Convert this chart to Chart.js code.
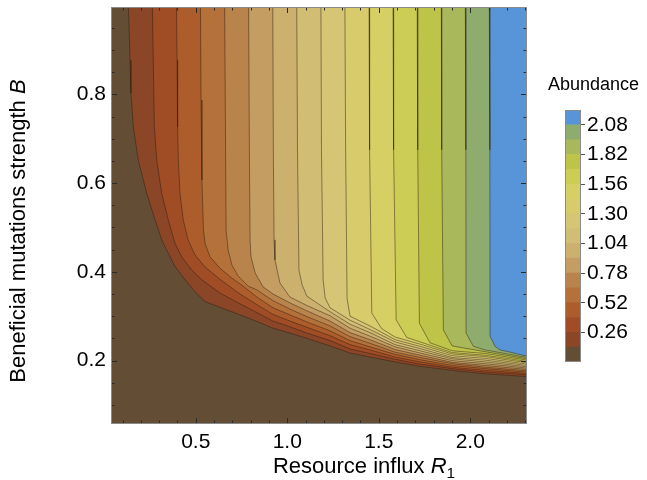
<!DOCTYPE html>
<html>
<head>
<meta charset="utf-8">
<script src="https://cdn.jsdelivr.net/npm/chart.js"></script>
<style>
  html, body { margin: 0; padding: 0; background: #ffffff; }
  #wrap { position: relative; width: 647px; height: 480px; overflow: hidden;
          font-family: "Liberation Sans", Arial, sans-serif; color: #000; }
  #main { position: absolute; left: 0; top: 0; }
  #cbwrap { position: absolute; left: 540px; top: 60px; width: 107px; height: 320px; }
  #xtitle { position: absolute; left: 164px; top: 454px; width: 400px; height: 24px;
            line-height: 24px; text-align: center; font-size: 22px; white-space: nowrap; }
  #ytitle { position: absolute; left: -182px; top: 219px; width: 400px; height: 24px;
            line-height: 24px; text-align: center; font-size: 22px; white-space: nowrap;
            transform: rotate(-90deg); transform-origin: 50% 50%; }
  #cbtitle { position: absolute; left: 548px; top: 75px; font-size: 18px; line-height: 18px;
             white-space: nowrap; }
  sub { font-size: 70%; vertical-align: -0.3em; line-height: 0; }
</style>
</head>
<body>
<div id="wrap">
  <canvas id="main" width="647" height="480"></canvas>
  <div id="cbwrap"><canvas id="cb" width="107" height="320"></canvas></div>
  <div id="xtitle">Resource influx <i>R</i><sub>1</sub></div>
  <div id="ytitle">Beneficial mutations strength <i>B</i></div>
  <div id="cbtitle">Abundance</div>
</div>
<script>
// ---------------- data ----------------
// contour levels of Abundance
const contourLevels = [0.13, 0.26, 0.39, 0.52, 0.65, 0.78, 0.91, 1.04, 1.17, 1.30, 1.43, 1.56, 1.69, 1.82, 1.95, 2.08];

// each contour: [R1, B] points, from the top of the plot down to the right edge
const contour_0_13 = [[0.132,1.0],[0.141,0.877],[0.146,0.803],[0.159,0.727],[0.186,0.652],[0.232,0.577],[0.278,0.517],[0.314,0.472],[0.350,0.442],[0.387,0.412],[0.442,0.382],[0.496,0.355],[0.551,0.333],[0.633,0.320],[0.742,0.303],[0.835,0.288],[0.922,0.273],[1.015,0.262],[1.108,0.250],[1.234,0.233],[1.343,0.217],[1.452,0.208],[1.589,0.197],[1.726,0.187],[1.901,0.178],[2.081,0.170],[2.310,0.164]];
const contour_0_26 = [[0.263,1.0],[0.268,0.877],[0.274,0.727],[0.287,0.652],[0.314,0.577],[0.350,0.517],[0.387,0.464],[0.423,0.434],[0.478,0.404],[0.533,0.382],[0.633,0.352],[0.742,0.328],[0.835,0.308],[0.922,0.289],[1.015,0.276],[1.108,0.262],[1.234,0.245],[1.343,0.226],[1.452,0.216],[1.589,0.203],[1.726,0.192],[1.901,0.182],[2.081,0.174],[2.310,0.168]];
const contour_0_39 = [[0.395,1.0],[0.398,0.877],[0.401,0.727],[0.405,0.652],[0.414,0.577],[0.432,0.517],[0.458,0.472],[0.496,0.438],[0.551,0.411],[0.633,0.383],[0.742,0.350],[0.835,0.326],[0.922,0.304],[1.015,0.289],[1.108,0.275],[1.234,0.256],[1.343,0.236],[1.452,0.224],[1.589,0.208],[1.726,0.197],[1.901,0.185],[2.081,0.178],[2.310,0.171]];
const contour_0_52 = [[0.526,1.0],[0.529,0.787],[0.534,0.607],[0.542,0.495],[0.551,0.464],[0.578,0.434],[0.633,0.408],[0.697,0.386],[0.742,0.373],[0.835,0.343],[0.922,0.319],[1.015,0.303],[1.108,0.287],[1.234,0.267],[1.343,0.245],[1.452,0.231],[1.589,0.214],[1.726,0.202],[1.901,0.189],[2.081,0.182],[2.310,0.174]];
const contour_0_65 = [[0.658,1.0],[0.663,0.675],[0.666,0.494],[0.677,0.449],[0.698,0.415],[0.731,0.391],[0.786,0.368],[0.835,0.359],[0.922,0.335],[1.015,0.316],[1.108,0.299],[1.234,0.278],[1.343,0.254],[1.452,0.239],[1.589,0.219],[1.726,0.207],[1.901,0.193],[2.081,0.185],[2.310,0.177]];
const contour_0_78 = [[0.789,1.0],[0.793,0.675],[0.797,0.472],[0.802,0.434],[0.824,0.398],[0.868,0.366],[0.922,0.350],[1.015,0.330],[1.108,0.312],[1.234,0.289],[1.343,0.263],[1.452,0.247],[1.589,0.225],[1.726,0.212],[1.901,0.196],[2.081,0.189],[2.310,0.180]];
const contour_0_91 = [[0.921,1.0],[0.924,0.675],[0.928,0.472],[0.933,0.427],[0.960,0.375],[1.015,0.343],[1.108,0.324],[1.234,0.301],[1.343,0.273],[1.452,0.255],[1.589,0.231],[1.726,0.217],[1.901,0.200],[2.081,0.193],[2.310,0.183]];
const contour_1_04 = [[1.052,1.0],[1.056,0.675],[1.064,0.404],[1.081,0.371],[1.108,0.345],[1.234,0.310],[1.343,0.282],[1.452,0.263],[1.589,0.236],[1.726,0.222],[1.901,0.204],[2.081,0.197],[2.310,0.186]];
const contour_1_17 = [[1.184,1.0],[1.187,0.675],[1.196,0.382],[1.207,0.341],[1.234,0.319],[1.343,0.291],[1.452,0.270],[1.589,0.242],[1.726,0.227],[1.901,0.207],[2.081,0.201],[2.310,0.189]];
const contour_1_30 = [[1.315,1.0],[1.319,0.675],[1.327,0.340],[1.343,0.300],[1.452,0.278],[1.589,0.247],[1.726,0.232],[1.901,0.211],[2.081,0.205],[2.310,0.192]];
const contour_1_43 = [[1.447,1.0],[1.450,0.675],[1.462,0.307],[1.516,0.272],[1.589,0.253],[1.726,0.237],[1.901,0.215],[2.081,0.209],[2.310,0.195]];
const contour_1_56 = [[1.578,1.0],[1.581,0.675],[1.595,0.292],[1.653,0.252],[1.726,0.242],[1.901,0.218],[2.081,0.212],[2.310,0.198]];
const contour_1_69 = [[1.710,1.0],[1.713,0.675],[1.722,0.284],[1.780,0.240],[1.901,0.222],[2.081,0.216],[2.310,0.201]];
const contour_1_82 = [[1.842,1.0],[1.844,0.675],[1.853,0.269],[1.901,0.233],[2.081,0.220],[2.310,0.204]];
const contour_1_95 = [[1.973,1.0],[1.976,0.675],[1.977,0.262],[2.017,0.232],[2.081,0.224],[2.310,0.207]];
const contour_2_08 = [[2.104,1.0],[2.107,0.675],[2.108,0.254],[2.118,0.247],[2.135,0.232],[2.163,0.224],[2.227,0.218],[2.310,0.210]];

const contours = [contour_0_13, contour_0_26, contour_0_39, contour_0_52, contour_0_65, contour_0_78,
                  contour_0_91, contour_1_04, contour_1_17, contour_1_30, contour_1_43, contour_1_56,
                  contour_1_69, contour_1_82, contour_1_95, contour_2_08];

// colour bar band edges and labelled ticks
const colorbarEdges = [0, 0.13, 0.26, 0.39, 0.52, 0.65, 0.78, 0.91, 1.04, 1.17, 1.30, 1.43, 1.56, 1.69, 1.82, 1.95, 2.08, 2.21];
const colorbarTicks = [0.26, 0.52, 0.78, 1.04, 1.30, 1.56, 1.82, 2.08];

// axis ticks
const xTickLabels = [0.5, 1.0, 1.5, 2.0];
const yTickLabels = [0.2, 0.4, 0.6, 0.8];
const xMinorTicks = [0.1, 0.2, 0.3, 0.4, 0.6, 0.7, 0.8, 0.9, 1.1, 1.2, 1.3, 1.4, 1.6, 1.7, 1.8, 1.9, 2.1, 2.2, 2.3];
const yMinorTicks = [0.1, 0.15, 0.25, 0.3, 0.35, 0.45, 0.5, 0.55, 0.65, 0.7, 0.75, 0.85, 0.9, 0.95];

// ---------------- styles ----------------
const bandColors = ['#634e35','#8b4527','#a04d25','#ac5d2b','#b4723a','#b9844c','#c39d62','#cbb06e',
                    '#d1bd74','#d5c574','#d7cb6b','#d6d064','#cccd55','#bec447','#a8b85b','#8fac6f','#5794d8'];
const FONT = "'Liberation Sans', Arial, sans-serif";

// ---------------- main contour chart ----------------
const plotFrame = {
  id: 'plotFrame',
  beforeDraw(chart) {
    const {ctx, chartArea: a} = chart;
    ctx.save();
    ctx.fillStyle = bandColors[0];
    ctx.fillRect(a.left, a.top, a.right - a.left, a.bottom - a.top);
    ctx.restore();
  },
  afterDatasetsDraw(chart) {
    const {ctx, chartArea: a, scales: {x, y}} = chart;
    ctx.save();
    ctx.strokeStyle = '#2a2a2a';
    ctx.lineWidth = 1;
    ctx.beginPath();
    const xt = (v, len) => {
      const p = Math.round(x.getPixelForValue(v)) + 0.5;
      ctx.moveTo(p, a.bottom); ctx.lineTo(p, a.bottom - len);
      ctx.moveTo(p, a.top); ctx.lineTo(p, a.top + len);
    };
    const yt = (v, len) => {
      const p = Math.round(y.getPixelForValue(v)) + 0.5;
      ctx.moveTo(a.left, p); ctx.lineTo(a.left + len, p);
      ctx.moveTo(a.right, p); ctx.lineTo(a.right - len, p);
    };
    xTickLabels.forEach(v => xt(v, 6));
    xMinorTicks.forEach(v => xt(v, 3.5));
    yTickLabels.forEach(v => yt(v, 6));
    yMinorTicks.forEach(v => yt(v, 3.5));
    ctx.stroke();
    ctx.strokeStyle = '#8a8a8a';
    ctx.strokeRect(a.left + 0.5, a.top + 0.5, a.right - a.left - 1, a.bottom - a.top - 1);
    ctx.restore();
  }
};

const datasets = contours.map((pts, i) => ({
  label: 'Abundance ≥ ' + contourLevels[i].toFixed(2),
  data: pts.map(([x, y]) => ({x, y})),
  showLine: true,
  fill: 'end',
  backgroundColor: bandColors[i + 1],
  borderColor: 'rgba(45, 30, 15, 0.48)',
  borderWidth: 1,
  pointRadius: 0,
  tension: 0,
  order: contours.length - i
}));

new Chart(document.getElementById('main'), {
  type: 'scatter',
  data: { datasets },
  options: {
    responsive: false,
    animation: false,
    events: [],
    layout: { autoPadding: false, padding: { left: 0, top: 7, right: 120, bottom: 0 } },
    plugins: {
      legend: { display: false },
      tooltip: { enabled: false },
      filler: { drawTime: 'beforeDatasetsDraw' }
    },
    scales: {
      x: {
        type: 'linear', min: 0.037, max: 2.31,
        grid: { display: false, drawTicks: false }, border: { display: false },
        afterBuildTicks: s => { s.ticks = xTickLabels.map(v => ({value: v})); },
        ticks: { color: '#000', padding: 6, font: { family: FONT, size: 21 },
                 maxRotation: 0, autoSkip: false, callback: v => v.toFixed(1) },
        afterFit: s => { s.height = 56; s.paddingLeft = 0; s.paddingRight = 0; }
      },
      y: {
        type: 'linear', min: 0.057, max: 0.997,
        grid: { display: false, drawTicks: false }, border: { display: false },
        afterBuildTicks: s => { s.ticks = yTickLabels.map(v => ({value: v})); },
        ticks: { color: '#000', padding: 5, font: { family: FONT, size: 21 },
                 autoSkip: false, callback: v => v.toFixed(1) },
        afterFit: s => { s.width = 111; s.paddingTop = 0; s.paddingBottom = 0; }
      }
    }
  },
  plugins: [plotFrame]
});

// ---------------- colour bar ----------------
const barFrame = {
  id: 'barFrame',
  afterDatasetsDraw(chart) {
    const {ctx, chartArea: a} = chart;
    ctx.save();
    ctx.strokeStyle = '#8a8a8a';
    ctx.lineWidth = 1;
    ctx.strokeRect(a.left + 0.5, a.top + 0.5, a.right - a.left - 1, a.bottom - a.top - 1);
    ctx.restore();
  }
};

new Chart(document.getElementById('cb'), {
  type: 'bar',
  data: {
    labels: ['Abundance'],
    datasets: bandColors.map((c, k) => ({
      label: colorbarEdges[k].toFixed(2) + '–' + colorbarEdges[k + 1].toFixed(2),
      data: [[colorbarEdges[k], colorbarEdges[k + 1]]],
      backgroundColor: c,
      borderWidth: 0,
      barPercentage: 1,
      categoryPercentage: 1
    }))
  },
  options: {
    responsive: false,
    animation: false,
    events: [],
    layout: { autoPadding: false, padding: { left: 25, top: 50, right: 0, bottom: 18 } },
    plugins: { legend: { display: false }, tooltip: { enabled: false } },
    scales: {
      x: { display: false, stacked: true },
      y: {
        position: 'right', min: 0, max: 2.21,
        grid: { display: true, drawOnChartArea: false, drawTicks: true, tickLength: 4, color: '#555' },
        border: { display: false },
        afterBuildTicks: s => { s.ticks = colorbarTicks.map(v => ({value: v})); },
        ticks: { color: '#000', padding: 2, font: { family: FONT, size: 21 },
                 autoSkip: false, callback: v => v.toFixed(2) },
        afterFit: s => { s.width = 66; s.paddingTop = 0; s.paddingBottom = 0; }
      }
    }
  },
  plugins: [barFrame]
});
</script>
</body>
</html>
